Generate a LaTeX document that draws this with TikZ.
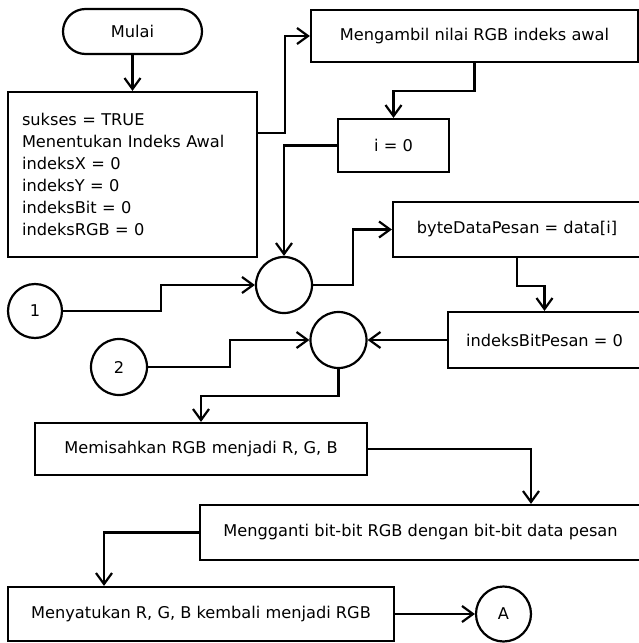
\documentclass[tikz,border=0pt]{standalone}
\usepackage{fontspec}
\setmainfont{DejaVu Sans}
\usetikzlibrary{arrows.meta}
\begin{document}
\begin{tikzpicture}[x=1pt,y=-1pt,
  line width=2.2pt, line join=miter,
  every node/.style={font=\fontsize{16.2}{22}\selectfont, inner sep=0pt},
  box/.style={draw, rectangle, minimum width=#1},
  term/.style={draw, rectangle, rounded corners=22.5pt, minimum width=139pt, minimum height=45pt},
  join/.style={draw, circle, minimum size=#1},
  arr/.style={-{Straight Barb[length=11pt,width=16pt]}}
]
\useasboundingbox (0,0) rectangle (639,643);

% process steps
\node[term] (mulai) at (132.5,31.5) {Mulai};
\node[box=249pt, minimum height=165pt, align=left, text width=221pt] (init) at (132.5,174.5)
  {sukses = TRUE\\Menentukan Indeks Awal\\indeksX = 0\\indeksY = 0\\indeksBit = 0\\indeksRGB = 0};
\node[box=327pt, minimum height=52pt] (ambil) at (474.5,36) {Mengambil nilai RGB indeks awal};
\node[box=111pt, minimum height=53pt] (izero) at (393.5,145.5) {i = 0};
\node[join=56pt] (jA) at (284,285) {};
\node[join=54pt] (c1) at (35,311) {1};
\node[box=248pt, minimum height=55pt] (byte) at (517,229.5) {byteDataPesan = data[i]};
\node[box=193pt, minimum height=56pt] (bitp) at (544.5,340) {indeksBitPesan = 0};
\node[join=56pt] (jB) at (338.5,340) {};
\node[join=56pt] (c2) at (119,367) {2};
\node[box=332pt, minimum height=52pt] (pisah) at (201,449) {Memisahkan RGB menjadi R, G, B};
\node[box=441pt, minimum height=55pt] (ganti) at (420.5,532.5) {Mengganti bit-bit RGB dengan bit-bit data pesan};
\node[box=386pt, minimum height=54pt] (satu) at (201,614) {Menyatukan R, G, B kembali menjadi RGB};
\node[join=55pt] (cA) at (503.5,614) {A};

% flow lines
\draw[arr] (mulai) -- (init);
\draw[arr] ([yshift=41.5pt]init.east) -- ++(27,0) |- (ambil.west);
\draw[arr] (ambil.south) -- ++(0,28) -| (izero.north);
\draw[arr] (izero.west) -| (jA.north);
\draw[arr] (c1.east) -- ++(98,0) |- (jA.west);
\draw[arr] (jA.east) -- ++(40,0) |- (byte.west);
\draw[arr] (byte.south) -- ++(0,28) -| (bitp.north);
\draw[arr] (bitp.west) -- (jB.east);
\draw[arr] (c2.east) -- ++(82,0) |- (jB.west);
\draw[arr] (jB.south) -- ++(0,27) -| (pisah.north);
\draw[arr] (pisah.east) -| ([xshift=110.5pt]ganti.north);
\draw[arr] (ganti.west) -| ([xshift=-97pt]satu.north);
\draw[arr] (satu.east) -- (cA.west);
\end{tikzpicture}
\end{document}
